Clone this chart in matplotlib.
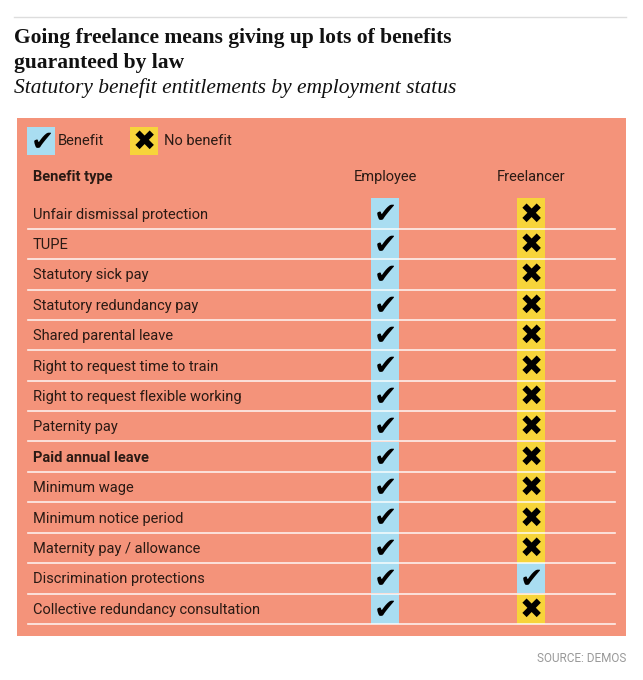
import matplotlib.pyplot as plt
from matplotlib.patches import Rectangle

benefits = ['Unfair dismissal protection', 'TUPE', 'Statutory sick pay',
            'Statutory redundancy pay', 'Shared parental leave',
            'Right to request time to train', 'Right to request flexible working',
            'Paternity pay', 'Paid annual leave', 'Minimum wage',
            'Minimum notice period', 'Maternity pay / allowance',
            'Discrimination protections', 'Collective redundancy consultation']
employee = [1] * 14
freelancer = [0, 0, 0, 0, 0, 0, 0, 0, 0, 0, 0, 0, 1, 0]
columns = ['Employee', 'Freelancer']

ORANGE = '#f4937a'
BLUE = '#a9ddf1'
YELLOW = '#f7d43a'
TXT = '#2a1a14'

label_font = ['Roboto', 'DejaVu Sans']
mark_font = ['DejaVu Sans']

fig = plt.figure(figsize=(6.43, 6.8), dpi=100)
ax = fig.add_axes([0, 0, 1, 1])
ax.set_xlim(0, 643)
ax.set_ylim(680, 0)
ax.axis('off')

# top rule and titles
ax.plot([14, 626], [17, 17], color='#dddddd', lw=1)
ax.text(14, 38, 'Going freelance means giving up lots of benefits',
        fontsize=15.5, fontweight='bold', family='Liberation Serif', va='center', color='#111111')
ax.text(14, 63, 'guaranteed by law',
        fontsize=15.5, fontweight='bold', family='Liberation Serif', va='center', color='#111111')
ax.text(14, 88, 'Statutory benefit entitlements by employment status',
        fontsize=15.5, style='italic', family='Liberation Serif', va='center', color='#111111')

# panel
ax.add_patch(Rectangle((17, 118), 609, 518, color=ORANGE, lw=0))

def mark(x, y, ok, size=20):
    ax.add_patch(Rectangle((x - 14, y - 15.2), 28, 30.4, color=BLUE if ok else YELLOW, lw=0))
    ax.text(x, y + 1, '\u2714' if ok else '\u2716', ha='center', va='center',
            fontsize=size, family=mark_font, color='black')

# legend
ax.add_patch(Rectangle((27, 127), 28, 28, color=BLUE, lw=0))
ax.text(42, 142, '\u2714', ha='center', va='center', fontsize=20, family=mark_font)
ax.text(58, 141, 'Benefit', va='center', fontsize=10.5, family=label_font, color=TXT)
ax.add_patch(Rectangle((130, 127), 28, 28, color=YELLOW, lw=0))
ax.text(144, 142, '\u2716', ha='center', va='center', fontsize=20, family=mark_font)
ax.text(164, 141, 'No benefit', va='center', fontsize=10.5, family=label_font, color=TXT)

# header
col_x = [385, 531]
ax.text(33, 177, 'Benefit type', va='center', fontsize=10.5, fontweight='bold',
        family=label_font, color=TXT)
for cx, name in zip(col_x, columns):
    ax.text(cx, 177, name, ha='center', va='center', fontsize=10.5,
            family=label_font, color=TXT)

# rows
y0, dy = 213.5, 30.4
for i, name in enumerate(benefits):
    y = y0 + i * dy
    ax.text(33, y + 1, name, va='center', fontsize=10.5, family=label_font, color=TXT,
            fontweight='bold' if name == 'Paid annual leave' else 'normal')
    mark(col_x[0], y, employee[i])
    mark(col_x[1], y, freelancer[i])
    ax.plot([28, 615], [y + dy / 2, y + dy / 2], color='white', lw=1.2, alpha=0.85)

ax.text(626, 658, 'SOURCE: DEMOS', ha='right', va='center', fontsize=8.5,
        family=label_font, color='#999999')

fig.savefig('out.png', dpi=100)
